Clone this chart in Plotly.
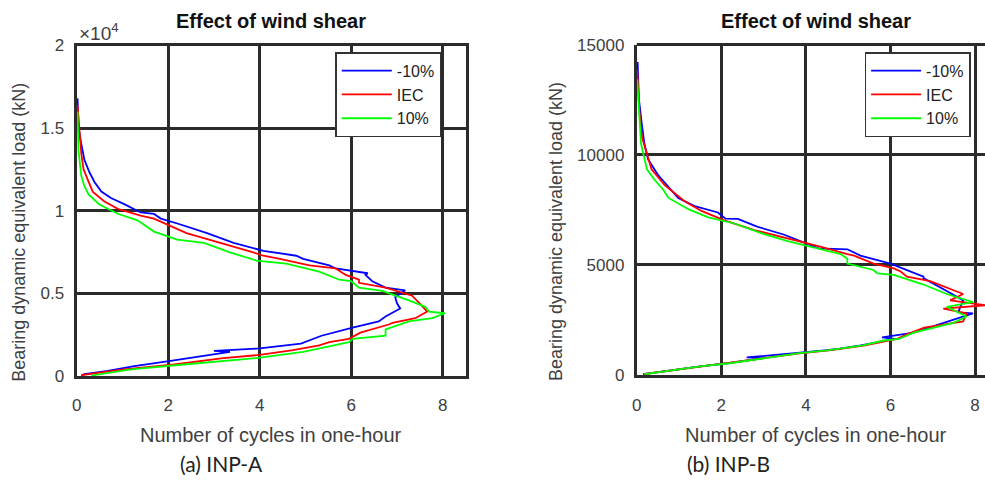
import plotly.graph_objects as go

# ---------------- data: panel (a) INP-A ----------------
a_minus_load = [50, 116, 310, 600, 890, 1280, 1470, 1520, 1670, 1960, 2440, 2925, 3310, 3600, 4090, 4400,
                4770, 5190, 5350, 5740, 6120, 6220, 6510, 6700, 7090, 7280, 7580, 8060, 8650, 9230, 9530,
                9810, 9900, 10400, 10770, 11160, 11740, 12330, 13080, 14070, 15060, 16000, 16800]
a_minus_cyc = [0.10, 0.17, 0.68, 1.26, 1.98, 2.85, 3.35, 3.00, 4.00, 4.90, 5.35, 6.03, 6.60, 6.75, 7.07, 7.00,
               6.96, 7.18, 6.75, 6.46, 6.31, 6.36, 5.66, 5.52, 4.95, 4.80, 4.08, 3.43, 2.85, 2.20, 1.84,
               1.69, 1.40, 1.04, 0.75, 0.54, 0.39, 0.28, 0.17, 0.10, 0.04, 0.03, 0.02]

a_iec_load = [50, 410, 700, 1090, 1280, 1570, 1860, 2050, 2250, 2630, 3120, 3220, 3500, 3600, 3900, 4380,
              4860, 5350, 5640, 5830, 6120, 6510, 6700, 7090, 7280, 7480, 8060, 8650, 9520, 9710, 10120,
              10580, 11160, 12520, 13500, 14500, 15500, 16400]
a_iec_cyc = [0.10, 1.04, 2.13, 3.20, 4.00, 4.73, 5.30, 5.52, 5.95, 6.20, 6.82, 6.90, 7.40, 7.47, 7.66, 7.50,
             7.33, 6.75, 6.17, 6.17, 5.88, 5.66, 5.09, 4.44, 4.08, 3.86, 3.14, 2.40, 1.69, 1.40, 0.90,
             0.60, 0.35, 0.15, 0.10, 0.07, 0.05, 0.02]

a_plus_load = [30, 410, 700, 1090, 1470, 1860, 2050, 2250, 2440, 2830, 3310, 3500, 3800, 3900, 4190, 4580,
               5160, 5350, 5740, 5830, 6220, 6320, 6800, 6990, 7480, 8060, 8260, 8740, 9420, 9820, 10120,
               10400, 10990, 11570, 12150, 13680, 16000]
a_plus_cyc = [0.32, 1.19, 2.34, 3.93, 4.95, 5.66, 5.95, 6.03, 6.75, 6.75, 7.26, 7.77, 8.05, 7.70, 7.62, 7.26,
              6.68, 6.17, 6.00, 5.74, 5.38, 5.30, 4.58, 3.93, 3.35, 2.78, 2.20, 1.69, 1.33, 0.90, 0.68,
              0.49, 0.26, 0.16, 0.10, 0.04, 0.02]

# ---------------- data: panel (b) INP-B ----------------
b_minus_load = [40, 260, 400, 550, 770, 800, 990, 1130, 1200, 1350, 1640, 1710, 1930, 2220, 2520, 2800, 2850,
                3100, 3390, 3820, 4400, 4470, 5060, 5420, 5710, 5750, 6000, 6370, 6730, 7090, 7100, 7380,
                7670, 8040, 8470, 9060, 9780, 10510, 11380, 12540, 14210]
b_minus_cyc = [0.15, 0.95, 1.50, 2.20, 3.00, 2.60, 3.80, 4.50, 4.80, 5.30, 6.10, 5.80, 6.55, 7.02, 7.49, 7.95, 7.60,
               7.65, 7.72, 7.33, 6.78, 6.78, 6.00, 5.29, 4.98, 4.30, 3.96, 3.49, 2.86, 2.39, 2.10, 1.92,
               1.37, 0.98, 0.78, 0.51, 0.27, 0.18, 0.12, 0.05, 0.02]

b_iec_load = [40, 260, 400, 550, 770, 990, 1130, 1350, 1640, 1860, 2150, 2440, 2800, 3020, 3170, 3390, 3680,
              4260, 4470, 4700, 4840, 5060, 5420, 5490, 5860, 6150, 6580, 7020, 7450, 7890, 8620, 9340,
              10810, 12000, 13850]
b_iec_cyc = [0.15, 1.00, 1.55, 2.25, 3.05, 3.85, 4.60, 5.40, 6.15, 6.40, 6.80, 7.72, 7.80, 7.25, 8.24, 7.41, 7.72,
             6.94, 6.39, 6.24, 6.08, 5.60, 5.14, 4.98, 4.27, 3.65, 2.78, 2.07, 1.53, 1.13, 0.66, 0.35,
             0.12, 0.06, 0.01]

b_plus_load = [40, 260, 400, 550, 770, 990, 1130, 1350, 1570, 1640, 1930, 2370, 2660, 3100, 3310, 3680, 4110,
               4550, 4620, 4770, 5060, 5280, 5490, 5790, 6080, 6440, 6880, 7160, 7530, 8040, 8400, 8840,
               9340, 10510, 13420]
b_plus_cyc = [0.18, 1.00, 1.50, 2.25, 3.00, 3.80, 4.55, 5.35, 5.84, 6.20, 6.55, 7.49, 7.80, 7.33, 7.95, 7.33, 6.78,
              6.08, 5.69, 5.60, 4.98, 4.98, 4.82, 4.20, 3.57, 2.94, 2.31, 1.69, 1.22, 0.75, 0.63, 0.43,
              0.24, 0.10, 0.01]

series_names = ["-10%", "IEC", "10%"]
series_colors = ["#0000FF", "#FF0000", "#00FF00"]

a_ticks = [0, 5000, 10000, 15000, 20000]
a_ticktext = ["0", "0.5", "1", "1.5", "2"]
b_ticks = [0, 5000, 10000, 15000]
b_ticktext = ["0", "5000", "10000", "15000"]
x_ticks = [0, 2, 4, 6, 8]

title_text = "Effect of wind shear"
xlabel = "Number of cycles in one-hour"
ylabel = "Bearing dynamic equivalent load (kN)"
captions = ["(a) INP-A", "(b) INP-B"]

W, H = 985, 486
SANS = "Liberation Sans, Arial, sans-serif"
GRID = "#2b2b2b"
TXT = "#404040"

fig = go.Figure()

a_data = [(a_minus_cyc, a_minus_load), (a_iec_cyc, a_iec_load), (a_plus_cyc, a_plus_load)]
b_data = [(b_minus_cyc, b_minus_load), (b_iec_cyc, b_iec_load), (b_plus_cyc, b_plus_load)]

for (xs, ys), nm, col in zip(a_data, series_names, series_colors):
    fig.add_trace(go.Scatter(x=xs, y=ys, mode="lines", name=nm, line=dict(color=col, width=1.8),
                             xaxis="x", yaxis="y", legend="legend"))
for (xs, ys), nm, col in zip(b_data, series_names, series_colors):
    fig.add_trace(go.Scatter(x=xs, y=ys, mode="lines", name=nm, line=dict(color=col, width=1.8),
                             xaxis="x2", yaxis="y2", legend="legend2"))

# pixel geometry of plot areas
aL, aR, aT, aB = 72, 463, 38, 382
bL, bR, bT, bB = 635, 985, 37, 381

def dom_x(l, r):
    return [l / W, r / W]

def dom_y(t, b):
    return [1 - b / H, 1 - t / H]

axis_common = dict(showgrid=True, gridcolor=GRID, gridwidth=3, zeroline=False, ticks="",
                   showline=True, linecolor=GRID, linewidth=3,
                   tickfont=dict(family=SANS, size=17, color=TXT))

b_xmax = 8.0 * (bR - bL) / (975 - bL)

legend_common = dict(xanchor="left", yanchor="top", bgcolor="white",
                     bordercolor="#333333", borderwidth=1.5, font=dict(family=SANS, size=16, color="#222"),
                     tracegroupgap=0, itemwidth=50)

fig.update_layout(
    width=W, height=H, margin=dict(l=0, r=0, t=0, b=0),
    paper_bgcolor="white", plot_bgcolor="white",
    showlegend=True,
    xaxis=dict(domain=dom_x(aL, aR), range=[0, 8.5], tickvals=x_ticks, anchor="y", mirror=True,
               ticklabelstandoff=12, **axis_common),
    yaxis=dict(domain=dom_y(aT, aB), range=[0, 20000], tickvals=a_ticks, ticktext=a_ticktext,
               anchor="x", mirror=True, ticklabelstandoff=6, **axis_common),
    xaxis2=dict(domain=dom_x(bL, bR), range=[0, b_xmax], tickvals=x_ticks, anchor="y2", mirror=False,
                ticklabelstandoff=12, **axis_common),
    yaxis2=dict(domain=dom_y(bT, bB), range=[0, 15000], tickvals=b_ticks, ticktext=b_ticktext,
                anchor="x2", mirror=False, ticklabelstandoff=6, **axis_common),
    legend=dict(x=332 / W, y=1 - 45 / H, **legend_common),
    legend2=dict(x=864 / W, y=1 - 45 / H, **legend_common),
)

# top border for right panel
fig.add_shape(type="line", xref="x2 domain", yref="y2 domain", x0=0, x1=1, y0=1, y1=1,
              line=dict(color=GRID, width=3))

ann = []
for cx in [(aL + aR) / 2, (bL + 996) / 2]:
    ann.append(dict(text="<b>" + title_text + "</b>", x=cx / W, y=1 - 13 / H, xref="paper", yref="paper",
                    showarrow=False, xanchor="center", yanchor="middle",
                    font=dict(family=SANS, size=20, color="#111")))
for cx in [(aL + aR) / 2, (bL + 996) / 2]:
    ann.append(dict(text=xlabel, x=cx / W, y=1 - 443 / H, xref="paper", yref="paper", showarrow=False,
                    xanchor="center", yanchor="middle", font=dict(family=SANS, size=20, color=TXT)))
for cx, cy in [(14, 232), (554, 232)]:
    ann.append(dict(text=ylabel, x=cx / W, y=1 - cy / H, xref="paper", yref="paper", showarrow=False,
                    textangle=-90, xanchor="center", yanchor="middle",
                    font=dict(family=SANS, size=18, color=TXT)))
for cx, cap in zip([218, 727], captions):
    ann.append(dict(text=cap, x=cx / W, y=1 - 473 / H, xref="paper", yref="paper", showarrow=False,
                    xanchor="center", yanchor="middle", font=dict(family="Lato, Open Sans, sans-serif", size=21,
                                                                  color="#222")))
ann.append(dict(text="\u00d710<sup>4</sup>", x=72 / W, y=1 - 24 / H, xref="paper", yref="paper",
                showarrow=False, xanchor="left", yanchor="middle",
                font=dict(family=SANS, size=19, color=TXT)))
fig.update_layout(annotations=ann)

fig.write_html("out.html")
